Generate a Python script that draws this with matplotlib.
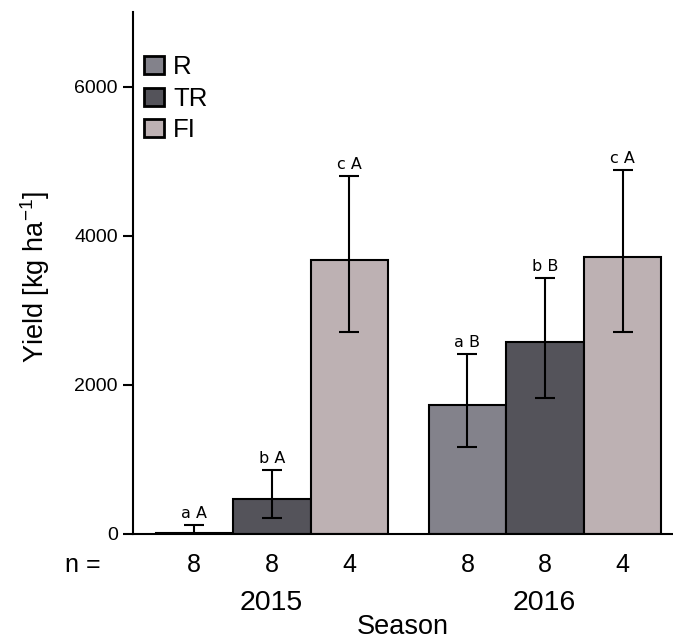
import matplotlib
matplotlib.use("Agg")
import matplotlib.pyplot as plt
from matplotlib.patches import Patch
import numpy as np

# Mean yield per treatment and season (kg/ha) with error-bar limits
seasons = ["2015", "2016"]
treatments = ["R", "TR", "FI"]
yield_2015 = [15, 475, 3675]
yield_2016 = [1735, 2575, 3720]
lower_2015 = [0, 210, 2705]
upper_2015 = [120, 855, 4795]
lower_2016 = [1160, 1825, 2715]
upper_2016 = [2415, 3435, 4885]
letters_2015 = ["a A", "b A", "c A"]
letters_2016 = ["a B", "b B", "c A"]
n_2015 = [8, 8, 4]
n_2016 = [8, 8, 4]

colors = {"R": "#83828b", "TR": "#54535a", "FI": "#bdb1b3"}

plt.rcParams["font.family"] = ["Liberation Sans", "DejaVu Sans"]
plt.rcParams["mathtext.fontset"] = "custom"
plt.rcParams["mathtext.rm"] = "Liberation Sans"
plt.rcParams["mathtext.it"] = "Liberation Sans"
plt.rcParams["mathtext.default"] = "regular"

W, H = 673, 641
fig = plt.figure(figsize=(W / 100, H / 100), dpi=100)
ax = fig.add_axes([133 / W, (H - 534) / H, 1 - 133 / W, (534 - 12) / H])

group_centers = [0.0, 3.52]
offsets = [-1, 0, 1]
means = [yield_2015, yield_2016]
lows = [lower_2015, lower_2016]
highs = [upper_2015, upper_2016]
letters = [letters_2015, letters_2016]
counts = [n_2015, n_2016]

for g, gc in enumerate(group_centers):
    xs = [gc + o for o in offsets]
    m = np.array(means[g], dtype=float)
    lo = np.array(lows[g], dtype=float)
    hi = np.array(highs[g], dtype=float)
    ax.bar(xs, m, width=1.0, color=[colors[t] for t in treatments],
           edgecolor="black", linewidth=1.5, zorder=2)
    ax.errorbar(xs, m, yerr=[m - lo, hi - m], fmt="none", ecolor="black",
                elinewidth=1.5, capsize=7, capthick=1.5, zorder=3)
    for x, h, lab in zip(xs, hi, letters[g]):
        ax.annotate(lab, (x, h), xytext=(0, 3), textcoords="offset points",
                    ha="center", va="bottom", fontsize=11.5,
                    family=["DejaVu Sans"])
    for x, n in zip(xs, counts[g]):
        ax.text(x, (534 - 565) / 522, str(n), transform=ax.get_xaxis_transform(),
                ha="center", va="center", fontsize=18)
    fig.text((133 + (gc + 1.79) * 77.5) / W, 1 - 603 / H, seasons[g],
             ha="center", va="center", fontsize=20.5)

ax.set_xlim(-1.79, 5.17)
ax.set_ylim(0, 7000)
ax.set_yticks([0, 2000, 4000, 6000])
ax.set_xticks([])
ax.tick_params(axis="y", direction="out", length=7, width=1.5, labelsize=14, pad=4)
for s in ["top", "right"]:
    ax.spines[s].set_visible(False)
for s in ["left", "bottom"]:
    ax.spines[s].set_linewidth(1.5)

fig.text(83 / W, 1 - 565 / H, "n =", ha="center", va="center", fontsize=18)
fig.text(403 / W, 1 - 634 / H, "Season", ha="center", va="baseline", fontsize=19.5)
fig.text(35 / W, 1 - 277 / H, "Yield [kg ha$^{-1}$]", rotation=90,
         ha="center", va="center", fontsize=19.5)

handles = [Patch(facecolor=colors[t], edgecolor="black", linewidth=2, label=t)
           for t in treatments]
ax.legend(handles=handles, loc="upper left", bbox_to_anchor=(0.02, (534 - 55) / 522),
          frameon=False, fontsize=18.5, handlelength=0.8, handleheight=0.7,
          handletextpad=0.35, labelspacing=0.3, borderaxespad=0, borderpad=0)

fig.savefig("out.png", dpi=100)
